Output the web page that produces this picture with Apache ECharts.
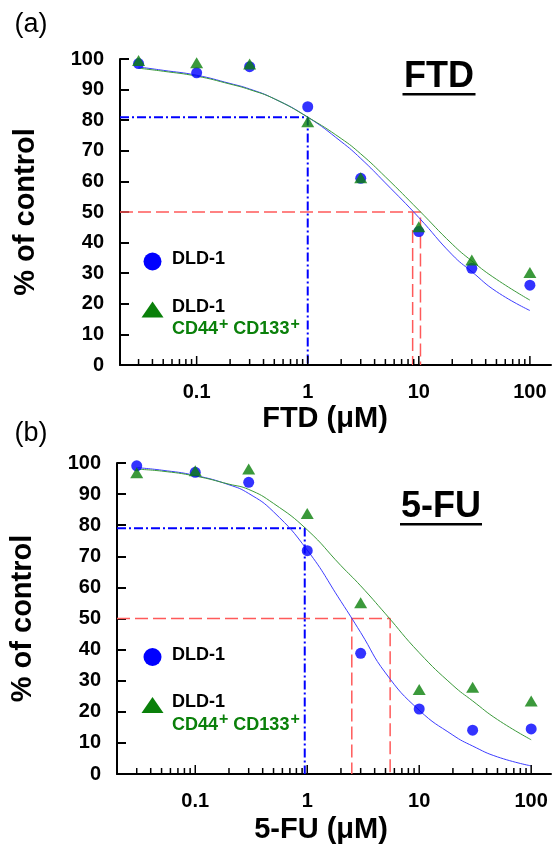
<!DOCTYPE html>
<html>
<head>
<meta charset="utf-8">
<script src="https://cdn.jsdelivr.net/npm/echarts@6/dist/echarts.min.js"></script>
<style>
  html, body { margin: 0; padding: 0; background: #fff; }
  #chart { width: 554px; height: 847px; }
</style>
</head>
<body>
<div id="chart"></div>
<script>
// concentrations (µM) of the measured points
const conc = [0.03, 0.1, 0.3, 1, 3, 10, 30, 100];
// FTD, % of control
const ftdDLD = [98.5, 95.5, 97.5, 84.4, 61, 43.6, 31.6, 26.1];
const ftdCSC = [99.5, 98.8, 98.4, 79.5, 61.2, 45.2, 34.3, 30.2];
// 5-FU, % of control
const fuDLD = [99.1, 97, 93.8, 71.8, 38.8, 20.9, 14.1, 14.5];
const fuCSC = [96.9, 97.5, 98.1, 83.8, 55.1, 27.2, 27.9, 23.5];

// fitted curves
const fitConc = [0.03, 0.05, 0.1, 0.2, 0.3, 0.5, 1, 2, 3, 5, 10, 20, 30, 50, 100];
const ftdFitDLD = [97.4, 96.3, 94.7, 92, 90.2, 87, 81, 73, 67.5, 59.5, 48.2, 36, 30.5, 24, 17.8];
const ftdFitCSC = [97.0, 96, 94.4, 91.8, 90, 87, 81, 74, 69, 61.5, 50.6, 39.5, 34, 28, 21.2];
const fuFitDLD = [98.5, 97.7, 96, 93, 90.2, 84.3, 72, 55.5, 45.5, 32.5, 20.5, 12.5, 9, 5.5, 2.6];
const fuFitCSC = [98, 97.4, 95.8, 93.2, 91.5, 87, 78.5, 67, 60.5, 51.5, 39, 28.5, 23.5, 17.5, 11];

// guide lines: [conc, % of control] and the two IC50s
const ftdRef = [1, 81];
const ftdIC50 = [8.8, 10.35];
const fuRef = [0.95, 79];
const fuIC50 = [2.5, 5.5];

// x axis labels (decades)
const decades = [0.1, 1, 10, 100];
const minorMult = [2, 3, 4, 5, 6, 7, 8, 9];

const FONT = "'Liberation Sans', Arial, sans-serif";
const BLUE = "#0000ff";
const GREEN = "#0a800a";
const RED = "#ff5a5a";

const lg = v => Math.log10(v);
const pts = (xs, ys) => xs.map((x, i) => [lg(x), ys[i]]);

// x ranges in log10 units
const xRange = [[-1.69, 2.19], [-1.699, 2.177]];

let tickData = [];
[0.01, 0.1, 1, 10].forEach(d => minorMult.forEach(m => tickData.push([lg(d * m), 0])));
decades.forEach(d => tickData.push([lg(d), 1]));

function ticksFor(idx) {
  const [a, b] = xRange[idx];
  return tickData.filter(t => t[0] > a + 0.01 && t[0] < b);
}

function xAxisDef(idx) {
  return {
    gridIndex: idx,
    type: "value",
    min: xRange[idx][0],
    max: xRange[idx][1],
    axisLine: { onZero: false, lineStyle: { color: "#000", width: 2 } },
    axisTick: { show: false },
    splitLine: { show: false },
    showMinLabel: false,
    showMaxLabel: false,
    axisLabel: {
      margin: 17,
      fontFamily: FONT,
      fontWeight: "bold",
      fontSize: 20,
      color: "#000",
      formatter: v => {
        const r = Math.round(v);
        if (Math.abs(v - r) > 1e-6) return "";
        const d = decades.find(x => Math.abs(lg(x) - r) < 1e-6);
        return d === undefined ? "" : String(d);
      }
    }
  };
}

function yAxisDef(idx) {
  return {
    gridIndex: idx,
    type: "value",
    min: 0,
    max: 100,
    interval: 10,
    name: "% of control",
    nameLocation: "middle",
    nameGap: 80,
    nameTextStyle: { fontFamily: FONT, fontWeight: "bold", fontSize: 29, color: "#000" },
    axisLine: { show: true, onZero: false, lineStyle: { color: "#000", width: 2 } },
    axisTick: { show: true, inside: true, length: 9, lineStyle: { color: "#000", width: 2 } },
    splitLine: { show: false },
    axisLabel: {
      margin: 16,
      fontFamily: FONT,
      fontWeight: "bold",
      fontSize: 20,
      color: "#000"
    }
  };
}

function panelSeries(idx, dld, csc, fitDLD, fitCSC, ref, ic50) {
  const xmin = xRange[idx][0];
  const ax = { xAxisIndex: idx, yAxisIndex: idx };
  const guide = (data, color, type, width) => Object.assign({
    type: "line", data, symbol: "none", silent: true, z: 1,
    lineStyle: { color, type, width }
  }, ax);
  return [
    guide([[xmin, ref[1]], [lg(ref[0]), ref[1]], [lg(ref[0]), 0]], BLUE, [9, 3, 2, 3], 2),
    guide([[xmin, 50], [lg(ic50[1]), 50], [lg(ic50[1]), 0]], RED, [13, 5], 1.5),
    guide([[lg(ic50[0]), 50], [lg(ic50[0]), 0]], RED, [13, 5], 1.5),
    Object.assign({
      type: "line", data: pts(fitConc, fitDLD), smooth: true, symbol: "none", z: 2,
      lineStyle: { color: "#3d3dff", width: 1 }
    }, ax),
    Object.assign({
      type: "line", data: pts(fitConc, fitCSC), smooth: true, symbol: "none", z: 2,
      lineStyle: { color: "#3a9a3a", width: 1 }
    }, ax),
    Object.assign({
      type: "scatter", data: pts(conc, dld), symbol: "circle", symbolSize: 11, z: 3,
      itemStyle: { color: BLUE }
    }, ax),
    Object.assign({
      type: "scatter", data: pts(conc, csc), symbol: "triangle", symbolSize: [13, 11], z: 4,
      itemStyle: { color: GREEN }
    }, ax),
    Object.assign({
      type: "custom", data: ticksFor(idx), z: 5, silent: true,
      renderItem: (params, api) => {
        const p = api.coord([api.value(0), 0]);
        const len = api.value(1) ? 9 : 6;
        return {
          type: "line",
          shape: { x1: p[0], y1: p[1], x2: p[0], y2: p[1] - len },
          style: { stroke: "#000", lineWidth: 1.5 }
        };
      }
    }, ax)
  ];
}

function legend(cy) {
  const txt = { fontFamily: FONT, fontWeight: "bold", fontSize: 18 };
  return [
    { type: "circle", shape: { cx: 152.5, cy: cy, r: 9 }, style: { fill: BLUE } },
    { type: "text", x: 172, y: cy - 2, style: Object.assign({ text: "DLD-1", fill: "#000", verticalAlign: "middle" }, txt) },
    { type: "polygon", shape: { points: [[152.5, cy + 40], [141.5, cy + 56], [163.5, cy + 56]] }, style: { fill: GREEN } },
    { type: "text", x: 172, y: cy + 45.5, style: Object.assign({ text: "DLD-1", fill: "#000", verticalAlign: "middle" }, txt) },
    {
      type: "text", x: 172, y: cy + 68,
      style: Object.assign({
        text: "{a|CD44}{s|+} {a|CD133}{s|+}",
        fill: GREEN,
        verticalAlign: "middle",
        rich: {
          a: { fontFamily: FONT, fontWeight: "bold", fontSize: 18, fill: GREEN },
          s: { fontFamily: FONT, fontWeight: "bold", fontSize: 16, fill: GREEN, padding: [0, 0, 10, 1] }
        }
      }, txt)
    }
  ];
}

function title(text, cx, cy, w) {
  return [
    { type: "text", x: cx, y: cy, style: { text, fontFamily: FONT, fontWeight: "bold", fontSize: 36, fill: "#000", align: "center", verticalAlign: "middle" } },
    { type: "rect", shape: { x: cx - w / 2, y: cy + 16, width: w, height: 2.5 }, style: { fill: "#000" } }
  ];
}

function label(text, x, y, size, weight) {
  return { type: "text", x, y, style: { text, fontFamily: FONT, fontWeight: weight, fontSize: size, fill: "#000", align: "center", verticalAlign: "middle" } };
}

const chart = echarts.init(document.getElementById("chart"), null, { renderer: "canvas" });

const option = {
  animation: false,
  backgroundColor: "#fff",
  grid: [
    { left: 120, right: 0, top: 59, height: 306 },
    { left: 116, right: 0, top: 463, height: 311 }
  ],
  xAxis: [xAxisDef(0), xAxisDef(1)],
  yAxis: [yAxisDef(0), yAxisDef(1)],
  series: [].concat(
    panelSeries(0, ftdDLD, ftdCSC, ftdFitDLD, ftdFitCSC, ftdRef, ftdIC50),
    panelSeries(1, fuDLD, fuCSC, fuFitDLD, fuFitCSC, fuRef, fuIC50)
  ),
  graphic: [].concat(
    [label("(a)", 31, 25, 27, "normal"), label("(b)", 31, 434, 27, "normal")],
    [label("FTD (μM)", 325, 419, 29, "bold"), label("5-FU (μM)", 321, 830, 29, "bold")],
    title("FTD", 439, 77, 73),
    title("5-FU", 441, 507, 82),
    legend(261.5),
    legend(657)
  )
};

chart.setOption(option);
</script>
</body>
</html>
